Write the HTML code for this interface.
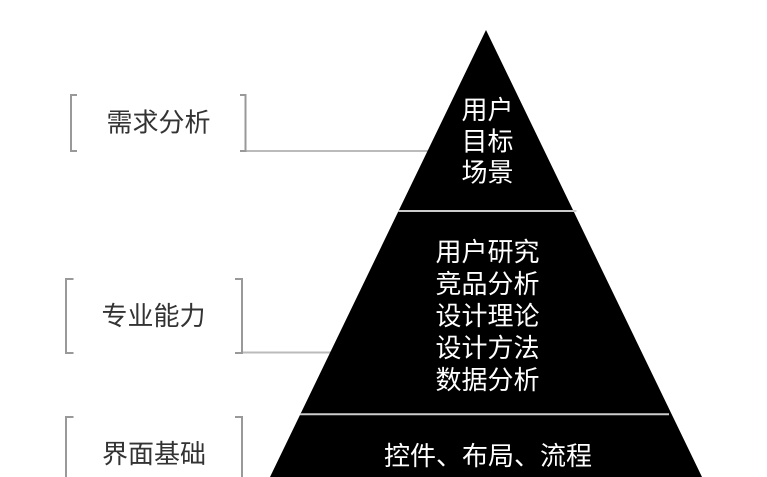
<!DOCTYPE html>
<html>
<head>
<meta charset="utf-8">
<style>
  html, body { margin: 0; padding: 0; background: #fff; }
  body { width: 767px; height: 477px; overflow: hidden; }
  svg { display: block; }
  text { font-family: "Liberation Sans", "Noto Sans CJK SC", sans-serif; font-size: 26px; }
</style>
</head>
<body>
<svg width="767" height="477" viewBox="0 0 767 477" xmlns="http://www.w3.org/2000/svg">
  <!-- connectors -->
  <line x1="246" y1="151" x2="430" y2="151" stroke="#bbbbbb" stroke-width="2"/>
  <line x1="242" y1="352.5" x2="333" y2="352.5" stroke="#bbbbbb" stroke-width="2"/>

  <!-- pyramid -->
  <polygon points="486,30 270,477 702,477" fill="#000"/>
  <line x1="398.5" y1="211" x2="576.5" y2="211" stroke="#cccccc" stroke-width="2"/>
  <line x1="300" y1="414.3" x2="669" y2="414.3" stroke="#cccccc" stroke-width="2"/>

  <!-- brackets -->
  <g fill="none" stroke="#999999" stroke-width="2">
    <polyline points="77,95 71,95 71,151 77,151"/>
    <polyline points="240,95 245.5,95 245.5,151 240,151"/>
    <polyline points="73.5,279 66,279 66,353 73.5,353"/>
    <polyline points="235,279 242,279 242,353 235,353"/>
    <polyline points="73.5,417 66,417 66,480"/>
    <polyline points="235,417 242,417 242,480"/>
  </g>

  <!-- left labels -->
  <g fill="#333333" text-anchor="middle" dominant-baseline="central">
    <text x="158.5" y="122.5">需求分析</text>
    <text x="153.5" y="316">专业能力</text>
    <text x="154" y="454">界面基础</text>
  </g>

  <!-- pyramid labels -->
  <g fill="#ffffff" text-anchor="middle" dominant-baseline="central">
    <text x="487.5" y="110">用户</text>
    <text x="487.5" y="141.3">目标</text>
    <text x="487.5" y="172.6">场景</text>

    <text x="487.5" y="252">用户研究</text>
    <text x="487.5" y="284">竞品分析</text>
    <text x="487.5" y="316">设计理论</text>
    <text x="487.5" y="348">设计方法</text>
    <text x="487.5" y="380">数据分析</text>

    <text x="488" y="456">控件、布局、流程</text>
  </g>
</svg>
</body>
</html>
